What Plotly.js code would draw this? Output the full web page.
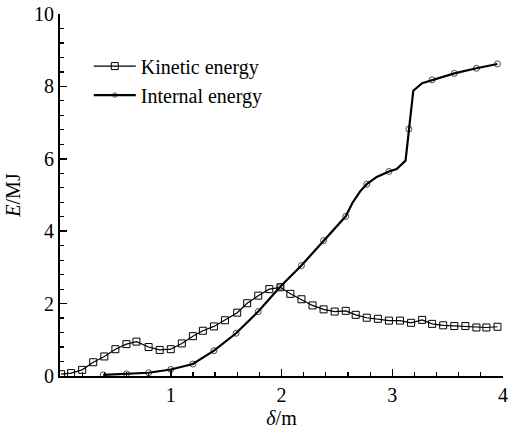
<!DOCTYPE html>
<html>
<head>
<meta charset="utf-8">
<script src="https://cdn.plot.ly/plotly-3.0.1.min.js"></script>
<style>html,body{margin:0;padding:0;background:#fff;}#chart{width:508px;height:433px;}</style>
</head>
<body>
<div id="chart"></div>
<script>
// Kinetic energy (square markers)
const kinX = [0.01, 0.10, 0.20, 0.30, 0.40, 0.50, 0.60, 0.69, 0.80, 0.90, 1.00, 1.10, 1.20, 1.29, 1.39, 1.49, 1.60, 1.69, 1.79, 1.89, 1.99, 2.08, 2.18, 2.28, 2.38, 2.48, 2.58, 2.67, 2.77, 2.87, 2.97, 3.07, 3.17, 3.27, 3.36, 3.46, 3.56, 3.66, 3.76, 3.85, 3.95];
const kinY = [0.05, 0.08, 0.17, 0.38, 0.54, 0.74, 0.88, 0.95, 0.80, 0.72, 0.74, 0.90, 1.10, 1.25, 1.37, 1.54, 1.75, 2.01, 2.22, 2.40, 2.45, 2.27, 2.12, 1.95, 1.84, 1.78, 1.80, 1.69, 1.61, 1.58, 1.53, 1.53, 1.47, 1.55, 1.44, 1.40, 1.38, 1.38, 1.34, 1.34, 1.36];

// Internal energy (line points)
const intX = [0.39, 0.60, 0.80, 1.00, 1.20, 1.39, 1.59, 1.79, 1.99, 2.18, 2.38, 2.58, 2.64, 2.71, 2.77, 2.86, 2.97, 3.04, 3.12, 3.15, 3.19, 3.27, 3.36, 3.56, 3.76, 3.95];
const intY = [0.03, 0.06, 0.09, 0.18, 0.33, 0.70, 1.18, 1.78, 2.47, 3.05, 3.74, 4.41, 4.78, 5.10, 5.30, 5.50, 5.65, 5.72, 5.95, 6.82, 7.88, 8.09, 8.18, 8.36, 8.50, 8.62];
// x positions where internal-energy markers are drawn
const intMarkX = [0.39, 0.60, 0.80, 1.00, 1.20, 1.39, 1.59, 1.79, 1.99, 2.18, 2.38, 2.58, 2.77, 2.97, 3.15, 3.36, 3.56, 3.76, 3.95];

const xTicks = [1, 2, 3, 4];
const yTicks = [0, 2, 4, 6, 8, 10];

const FONT = 'Liberation Serif';

const intSizes = intX.map(x => intMarkX.includes(x) ? 6 : 0);

const traces = [
  {
    x: kinX, y: kinY, name: 'Kinetic energy', type: 'scatter', mode: 'lines+markers',
    line: {color: '#000', width: 1.2},
    marker: {symbol: 'square-open', size: 7, color: '#000', line: {width: 1, color: '#000'}}
  },
  {
    x: intX, y: intY, name: 'Internal energy', type: 'scatter', mode: 'lines+markers',
    line: {color: '#000', width: 2.2},
    marker: {symbol: 'circle-open', size: intSizes, color: '#000', line: {width: 1, color: '#000'}}
  }
];

const layout = {
  width: 508, height: 433,
  margin: {l: 60, r: 5, t: 14, b: 57},
  paper_bgcolor: '#fff', plot_bgcolor: '#fff',
  font: {family: FONT, size: 20, color: '#000'},
  showlegend: true,
  legend: {x: 0.065, y: 0.91, xanchor: 'left', yanchor: 'top', bgcolor: 'rgba(0,0,0,0)',
           itemwidth: 42,
           font: {family: FONT, size: 20, color: '#000'}, tracegroupgap: 4, traceorder: 'normal'},
  xaxis: {
    range: [0, 4], tickvals: xTicks, ticktext: xTicks.map(String),
    ticks: 'inside', ticklen: 7, tickwidth: 1.5, tickcolor: '#000',
    minor: {dtick: 0.2, ticks: 'inside', ticklen: 4, tickwidth: 1.2, tickcolor: '#000'},
    showline: true, linewidth: 2, linecolor: '#000', mirror: false,
    showgrid: false, zeroline: false,
    tickfont: {family: FONT, size: 20},
    title: {text: '<i>δ</i>/m', font: {family: FONT, size: 20}, standoff: 6}
  },
  yaxis: {
    range: [0, 10], tickvals: yTicks, ticktext: yTicks.map(String),
    ticks: 'inside', ticklen: 7, tickwidth: 1.5, tickcolor: '#000',
    minor: {dtick: 0.4, ticks: 'inside', ticklen: 4, tickwidth: 1.2, tickcolor: '#000'},
    showline: true, linewidth: 2, linecolor: '#000', mirror: false,
    showgrid: false, zeroline: false,
    tickfont: {family: FONT, size: 20},
    title: {text: '<i>E</i>/MJ', font: {family: FONT, size: 20}, standoff: 8}
  }
};

Plotly.newPlot('chart', traces, layout, {displayModeBar: false, staticPlot: true});
</script>
</body>
</html>
